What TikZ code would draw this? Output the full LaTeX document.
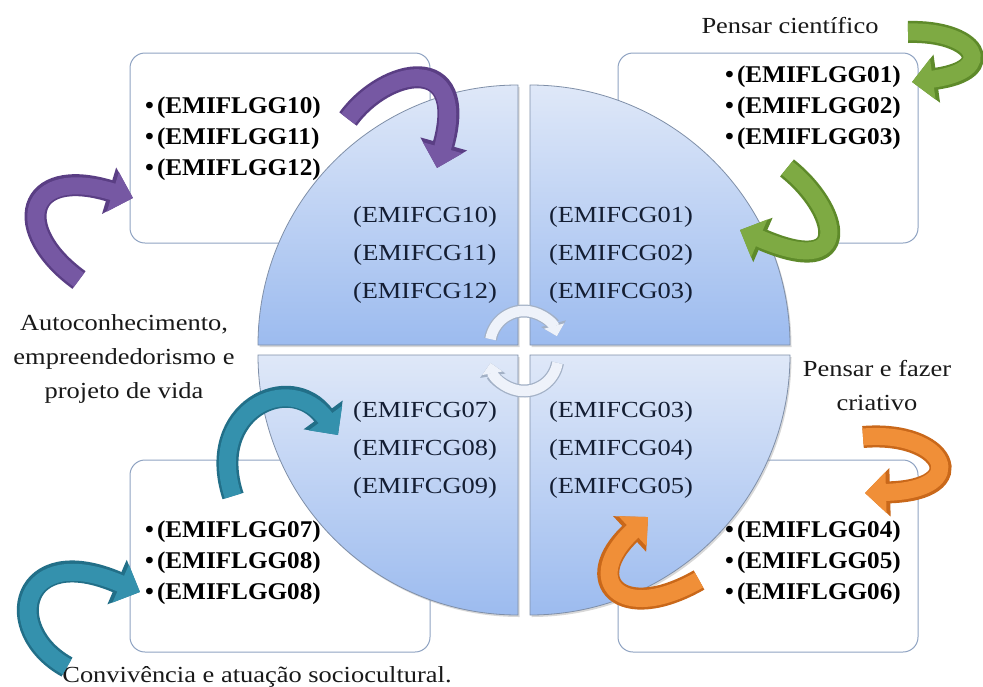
\documentclass[tikz,border=0pt]{standalone}
\usepackage{fontspec}
\setmainfont{Liberation Serif}
\newfontfamily\stretchserif{Liberation Serif}[FakeStretch=1.15]
\newfontfamily\boxserif{Liberation Serif}[FakeStretch=1.05]
\usetikzlibrary{arrows.meta,shadows}
\definecolor{qtop}{HTML}{DFE8F8}
\definecolor{qbot}{HTML}{9CBBEF}
\definecolor{qedge}{HTML}{7F8FA8}
\definecolor{boxedge}{HTML}{8FA3C2}
\definecolor{navy}{HTML}{141E33}
\definecolor{purpleD}{HTML}{5A3E84}
\definecolor{purpleL}{HTML}{7658A3}
\definecolor{greenD}{HTML}{5E8A2A}
\definecolor{greenL}{HTML}{7EAA43}
\definecolor{orangeD}{HTML}{C9681A}
\definecolor{orangeL}{HTML}{F08F38}
\definecolor{tealD}{HTML}{226F88}
\definecolor{tealL}{HTML}{3491AD}
\definecolor{cedge}{HTML}{A3B1C6}
\definecolor{cfill}{HTML}{EEF2FA}
\newcommand{\bul}{\textbullet\kern3pt}
\begin{document}
\begin{tikzpicture}[x=1pt,y=-1pt,
  gbox/.style={draw=boxedge,line width=1pt,rounded corners=15pt,fill=white,inner sep=0pt},
  quad/.style={top color=qtop,bottom color=qbot,draw=qedge,line width=0.8pt,
    drop shadow={shadow xshift=1.5pt,shadow yshift=-2pt,opacity=0.3,fill=gray}},
  circtxt/.style={font=\stretchserif\fontsize{23}{38}\selectfont,text=navy,align=center,inner sep=0pt},
  boxtxt/.style={font=\boxserif\bfseries\fontsize{24}{31}\selectfont,text=black,align=left,inner sep=0pt},
  lbl/.style={font=\stretchserif\fontsize{23}{34}\selectfont,text=black!90,align=center,inner sep=0pt},
  arrout/.style={line width=22pt,draw=#1,-{Triangle[width=47pt,length=25pt]}},
  arrin/.style={line width=17pt,draw=#1,-{Triangle[width=40pt,length=21pt]}},
  cout/.style={line width=13pt,draw=cedge,-{Triangle[width=25pt,length=13pt]}},
  cin/.style={line width=10.5pt,draw=cfill,-{Triangle[width=20pt,length=10.5pt]}}
]
\useasboundingbox (0,0) rectangle (983,686);
\fill[white] (0,0) rectangle (983,686);

% boxes
\node[gbox,minimum width=300pt,minimum height=190pt] (b1) at (280,148) {};
\node[gbox,minimum width=300pt,minimum height=190pt] (b2) at (768,148) {};
\node[gbox,minimum width=300pt,minimum height=192pt] (b3) at (280,556) {};
\node[gbox,minimum width=300pt,minimum height=192pt] (b4) at (768,556) {};

% quadrants
\path[quad] (518,345) -- (258,345) arc[start angle=180,end angle=270,radius=260] -- cycle;
\path[quad] (530,345) -- (530,85) arc[start angle=270,end angle=360,radius=260] -- cycle;
\path[quad] (530,355) -- (790,355) arc[start angle=0,end angle=90,radius=260] -- cycle;
\path[quad] (518,355) -- (518,615) arc[start angle=90,end angle=180,radius=260] -- cycle;

% circle texts
\node[circtxt] (c1) at (425,255) {(EMIFCG10)\\(EMIFCG11)\\(EMIFCG12)};
\node[circtxt] (c2) at (621,255) {(EMIFCG01)\\(EMIFCG02)\\(EMIFCG03)};
\node[circtxt] (c3) at (425,450) {(EMIFCG07)\\(EMIFCG08)\\(EMIFCG09)};
\node[circtxt] (c4) at (621,450) {(EMIFCG03)\\(EMIFCG04)\\(EMIFCG05)};

% box texts
\node[boxtxt] (t1) at (233,139) {\bul(EMIFLGG10)\\\bul(EMIFLGG11)\\\bul(EMIFLGG12)};
\node[boxtxt] (t2) at (813,108) {\bul(EMIFLGG01)\\\bul(EMIFLGG02)\\\bul(EMIFLGG03)};
\node[boxtxt] (t3) at (233,563) {\bul(EMIFLGG07)\\\bul(EMIFLGG08)\\\bul(EMIFLGG08)};
\node[boxtxt] (t4) at (813,563) {\bul(EMIFLGG04)\\\bul(EMIFLGG05)\\\bul(EMIFLGG06)};

% labels
\node[lbl] (l1) at (790,26) {Pensar científico};
\node[lbl] (l2) at (124,359) {Autoconhecimento,\\empreendedorismo e\\projeto de vida};
\node[lbl] (l3) at (877,386) {Pensar e fazer\\criativo};
\node[lbl] (l4) at (257,677) {Convivência e atuação sociocultural.};

% centre circular arrows
\coordinate (cu0) at (524,345);
\coordinate (cl0) at (524,357);
\draw[cout] ([shift={(190:34)}]cu0) arc[start angle=190,end angle=345,radius=34];
\draw[cin]  ([shift={(190:34)}]cu0) arc[start angle=190,end angle=345,radius=34];
\draw[cout] ([shift={(10:34)}]cl0) arc[start angle=10,end angle=170,radius=34];
\draw[cin]  ([shift={(10:34)}]cl0) arc[start angle=10,end angle=170,radius=34];

% big curved arrows
\coordinate (a1s) at (348,119); \coordinate (a1e) at (437,168);
\coordinate (a2s) at (79,280);  \coordinate (a2e) at (133,198);
\coordinate (a3s) at (908,32);  \coordinate (a3e) at (912,82);
\coordinate (a4s) at (787,168); \coordinate (a4e) at (740,230);
\coordinate (a5s) at (863,437); \coordinate (a5e) at (865,493);
\coordinate (a6s) at (699,580); \coordinate (a6e) at (648,517);
\coordinate (a7s) at (233,496); \coordinate (a7e) at (338,435);
\coordinate (a8s) at (67,667);  \coordinate (a8e) at (140,592);

\foreach \s/\e/\ca/\cb/\c/\d in {
  a1s/a1e/{(385,68)}/{(470,50)}/purpleD/purpleL,
  a2s/a2e/{(10,230)}/{(25,165)}/purpleD/purpleL,
  a3s/a3e/{(975,30)}/{(1000,70)}/greenD/greenL,
  a4s/a4e/{(840,210)}/{(855,280)}/greenD/greenL,
  a5s/a5e/{(945,430)}/{(975,490)}/orangeD/orangeL,
  a6s/a6e/{(620,625)}/{(580,580)}/orangeD/orangeL,
  a7s/a7e/{(205,410)}/{(290,370)}/tealD/tealL,
  a8s/a8e/{(0,630)}/{(20,540)}/tealD/tealL}
{
  \draw[arrout=\c] (\s) .. controls \ca and \cb .. (\e);
  \draw[arrin=\d] (\s) .. controls \ca and \cb .. (\e);
}
\end{tikzpicture}
\end{document}
